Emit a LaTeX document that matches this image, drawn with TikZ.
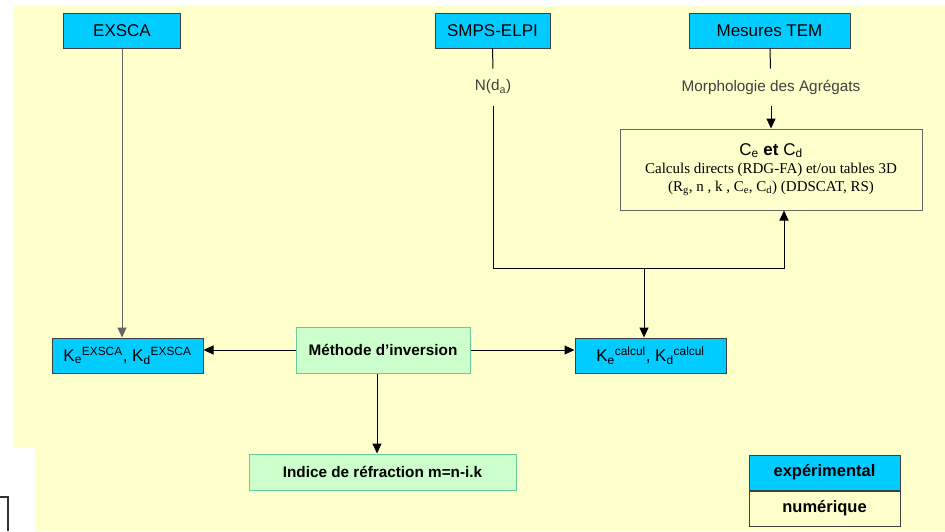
\documentclass[tikz,border=0pt]{standalone}
\usepackage{fontspec}
\setmainfont{Liberation Sans}
\newfontfamily\tmsfont{Liberation Serif}
\usetikzlibrary{arrows.meta,positioning}
\definecolor{bgyel}{HTML}{FFFFCC}
\definecolor{bxcyan}{HTML}{00CCFF}
\definecolor{bxgreen}{HTML}{CCFFCC}
\definecolor{edgreen}{HTML}{66CC99}
\definecolor{edgray}{HTML}{404040}
\newcommand{\pxsize}[1]{\fontsize{#1}{#1}\selectfont}

\begin{document}
\begin{tikzpicture}[x=1pt,y=-1pt,>={Triangle[width=9pt,length=10pt]},line width=1pt,
 cyanbox/.style={draw=edgray,fill=bxcyan,minimum height=35pt,inner sep=0pt,font=\pxsize{17}},
 greenbox/.style={draw=edgreen,fill=bxgreen,inner sep=0pt,font=\bfseries\pxsize{15.3}},
 plainbox/.style={draw=black!60,fill=bgyel,inner sep=0pt},
 lbl/.style={inner sep=0pt,minimum height=36pt,text=black!75,font=\pxsize{15.3}}]
\useasboundingbox (0,0) rectangle (945,531);
\fill[bgyel] (14,6) -- (945,6) -- (945,531) -- (35,531) -- (35,448) -- (14,448) -- cycle;
\draw[line width=2.5pt,black!80] (0,497) -- (8,497) -- (8,531);
% sources
\node[cyanbox,minimum width=117pt] (exsca) at (122,30.5) {EXSCA};
\node[cyanbox,minimum width=115pt] (smps) at (492.5,30.5) {SMPS-ELPI};
\node[cyanbox,minimum width=161pt] (tem) at (769.5,30.5) {Mesures TEM};
\node[lbl] (nda) at (493,87) {N(d\textsubscript{a})};
\node[lbl] (morph) at (771,87) {Morphologie des Agrégats};
\node[plainbox,minimum width=302pt,minimum height=81pt,align=center,
 font=\tmsfont\fontsize{15}{18}\selectfont] (ced) at (771,169.5)
 {{\rmfamily\pxsize{17}C\textsubscript{e} \textbf{et} C\textsubscript{d}}\\
  Calculs directs (RDG-FA) et/ou tables 3D\\
  (R\textsubscript{g}, n , k , C\textsubscript{e}, C\textsubscript{d}) (DDSCAT, RS)};
% results
\node[cyanbox,minimum width=151pt] (kex) at (127.5,355.5)
 {K\textsubscript{e}\textsuperscript{EXSCA}, K\textsubscript{d}\textsuperscript{EXSCA}};
\node[greenbox,minimum width=174pt,minimum height=46pt] (inv) at (383,350) {Méthode d’inversion};
\node[cyanbox,minimum width=151pt] (kcal) at (650.5,355.5)
 {K\textsubscript{e}\textsuperscript{calcul}, K\textsubscript{d}\textsuperscript{calcul}};
\node[greenbox,minimum width=267pt,minimum height=36pt] (ind) at (382.5,472) {Indice de réfraction m=n-i.k};
% legend
\node[cyanbox,minimum width=151pt,font=\bfseries\pxsize{16.5}] (lexp) at (824.5,472.5) {expérimental};
\node[plainbox,draw=edgray,minimum width=151pt,minimum height=35pt,font=\bfseries\pxsize{16.5},
 below=0pt of lexp] (lnum) {numérique};
% links
\coordinate (jct) at (644,268);
\coordinate (cin) at ([xshift=13pt]ced.south);
\draw[->,draw=black!60] (exsca.south) -- (exsca.south |- kex.north);
\draw (smps) -- (nda);
\draw (tem) -- (morph);
\draw[->] (morph.south) -- (morph.south |- ced.north);
\draw[->] (nda.south) |- (cin |- jct) -- (cin);
\draw[->] (jct) -- (jct |- kcal.north);
\draw[->] (inv.west) -- (inv.west -| kex.east);
\draw[->] (inv.east) -- (inv.east -| kcal.west);
\draw[->] ([xshift=-6pt]inv.south) -- ([xshift=-6pt]inv.south |- ind.north);
\end{tikzpicture}
\end{document}
